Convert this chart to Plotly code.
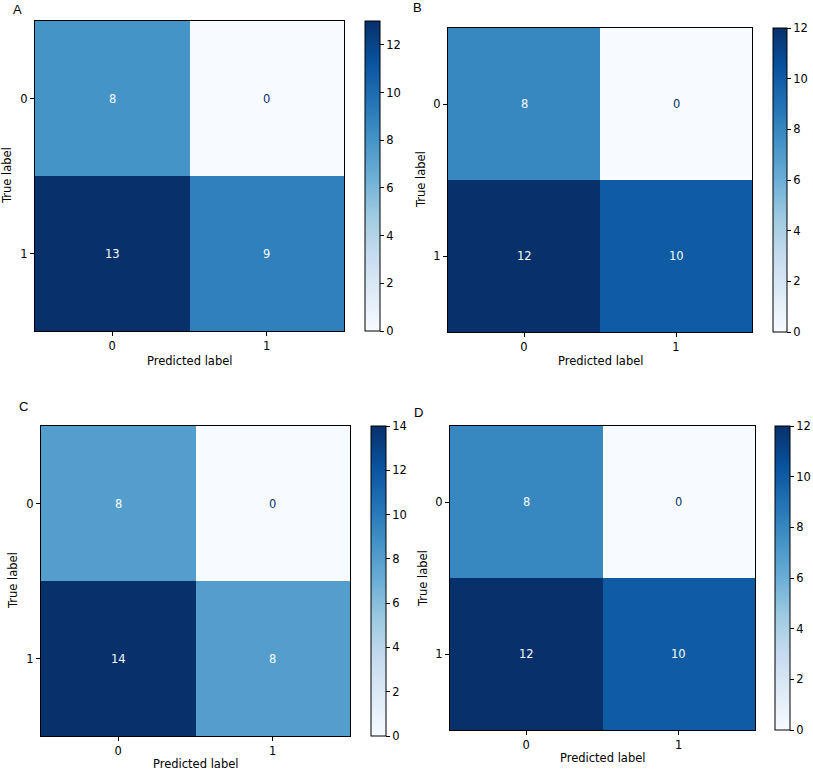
import plotly.graph_objects as go

W, H = 813, 771

panel_names = ["A", "B", "C", "D"]
class_labels = ["0", "1"]
cm_A = [[8, 0], [13, 9]]
cm_B = [[8, 0], [12, 10]]
cm_C = [[8, 0], [14, 8]]
cm_D = [[8, 0], [12, 10]]
matrices = [cm_A, cm_B, cm_C, cm_D]

# pixel boxes: (left, top, right, bottom) of plot; colorbar left/right; letter pos; ytitle x; xtitle y
boxes = [
    dict(plot=(35, 21, 344, 331), cb=(365, 380), letter=(17, 10), ytitle=7, xtitle=361),
    dict(plot=(448, 28, 752, 332), cb=(773, 787), letter=(417, 8), ytitle=421, xtitle=361),
    dict(plot=(41, 426, 350, 736), cb=(371, 386), letter=(23, 406), ytitle=13, xtitle=764),
    dict(plot=(450, 426, 755, 730), cb=(775, 790), letter=(418, 412), ytitle=423, xtitle=758),
]

blues = ["#f7fbff", "#deebf7", "#c6dbef", "#9ecae1", "#6baed6",
         "#4292c6", "#2171b5", "#08519c", "#08306b"]
colorscale = [[i / (len(blues) - 1), c] for i, c in enumerate(blues)]

FONT = "DejaVu Sans"
FS = 11.5

fig = go.Figure()
annotations = []
layout = {}

def fx(px):
    return px / W

def fy(py):
    return 1 - py / H

for i, (name, cm, b) in enumerate(zip(panel_names, matrices, boxes)):
    n = "" if i == 0 else str(i + 1)
    xa, ya = "x" + n, "y" + n
    l, t, r, bt = b["plot"]
    cl, cr = b["cb"]
    zmax = max(max(row) for row in cm)
    zmin = min(min(row) for row in cm)
    fig.add_trace(go.Heatmap(
        z=cm, x=[0, 1], y=[0, 1], xaxis=xa, yaxis=ya,
        colorscale=colorscale, zmin=zmin, zmax=zmax, hoverinfo="skip",
        colorbar=dict(
            x=fx(cl), xanchor="left", xpad=0, ypad=0,
            y=fy((t + bt) / 2), yanchor="middle",
            len=(bt - t) / H, lenmode="fraction",
            thickness=cr - cl, thicknessmode="pixels",
            outlinewidth=1, outlinecolor="black",
            ticks="outside", ticklen=4, tickcolor="black", tickwidth=1,
            tick0=0, dtick=2,
            tickfont=dict(family=FONT, size=FS, color="black"),
        ),
    ))
    axis_common = dict(
        showgrid=False, zeroline=False, showline=True, linecolor="black",
        linewidth=1, mirror=True, ticks="outside", ticklen=4, tickcolor="black",
        tickmode="array", tickvals=[0, 1], ticktext=class_labels,
        tickfont=dict(family=FONT, size=FS, color="black"),
    )
    layout["xaxis" + n] = dict(axis_common, domain=[fx(l), fx(r)],
                               range=[-0.5, 1.5], anchor=ya)
    layout["yaxis" + n] = dict(axis_common, domain=[fy(bt), fy(t)],
                               range=[1.5, -0.5], anchor=xa)
    thresh = (zmax + zmin) / 2
    for ri, row in enumerate(cm):
        for ci, v in enumerate(row):
            annotations.append(dict(
                x=ci, y=ri, xref=xa, yref=ya, text=str(v), showarrow=False,
                font=dict(family=FONT, size=FS,
                          color=blues[-1] if v < thresh else blues[0]),
            ))
    annotations.append(dict(
        x=fx((l + r) / 2), y=fy(b["xtitle"]), xref="paper", yref="paper",
        text="Predicted label", showarrow=False, xanchor="center", yanchor="middle",
        font=dict(family=FONT, size=FS, color="black"),
    ))
    annotations.append(dict(
        x=fx(b["ytitle"]), y=fy((t + bt) / 2), xref="paper", yref="paper",
        text="True label", showarrow=False, textangle=-90,
        xanchor="center", yanchor="middle",
        font=dict(family=FONT, size=FS, color="black"),
    ))
    lx, ly = b["letter"]
    annotations.append(dict(
        x=fx(lx), y=fy(ly), xref="paper", yref="paper", text=name,
        showarrow=False, xanchor="center", yanchor="middle",
        font=dict(family="Liberation Sans", size=13, color="black"),
    ))

fig.update_layout(
    width=W, height=H, margin=dict(l=0, r=0, t=0, b=0),
    paper_bgcolor="white", plot_bgcolor="white",
    annotations=annotations, showlegend=False, **layout,
)

fig.write_html(
    "out.html",
    config={"displayModeBar": False},
    post_script="document.body.style.margin='0';document.body.style.overflow='hidden';",
)
